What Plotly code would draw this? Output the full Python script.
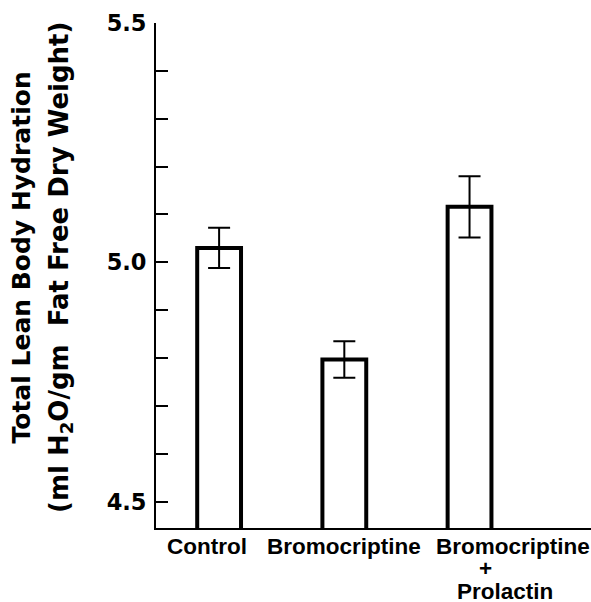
import plotly.graph_objects as go

categories = ["Control", "Bromocriptine", "Bromocriptine + Prolactin"]
means = [5.03, 4.797, 5.116]
sem = [0.042, 0.038, 0.064]

# x-label lines (per category) for multi-line labels
label_lines = [["Control"], ["Bromocriptine"], ["Bromocriptine", "+", "Prolactin"]]

tick_values = [4.5, 4.6, 4.7, 4.8, 4.9, 5.0, 5.1, 5.2, 5.3, 5.4, 5.5]
tick_labels = ["4.5", "", "", "", "", "5.0", "", "", "", "", "5.5"]

y_title_lines = ["Total Lean Body Hydration",
                 "(ml H<sub>2</sub>O/gm\u00a0 Fat Free Dry Weight)"]

TITLE_FONTS = [dict(family="DejaVu Sans", size=25, color="black", weight="bold"),
               dict(family="DejaVu Sans", size=26, color="black", weight="bold")]
TICK_FONT = dict(family="DejaVu Sans", size=22.5, color="black", weight="bold")
XLAB_FONT = dict(family="Liberation Sans", size=22.5, color="black", weight="bold")

fig = go.Figure()
fig.add_trace(go.Bar(
    x=categories, y=means, width=0.35,
    marker=dict(color="white", line=dict(color="black", width=4)),
    error_y=dict(type="data", array=sem, visible=True, color="black",
                 thickness=2, width=11),
    showlegend=False,
))

annotations = []
# x labels: per-line annotations, with horizontal offsets to match the figure
x_offsets = [[-12], [0], [43, 16, 35]]
y_offsets = [[-18], [-18], [-18, -40, -63]]
for cat, lines, xo, yo in zip(categories, label_lines, x_offsets, y_offsets):
    for line, dx, dy in zip(lines, xo, yo):
        annotations.append(dict(
            x=cat, xref="x", y=0, yref="paper", text=line, showarrow=False,
            xanchor="center", yanchor="middle", xshift=dx, yshift=dy,
            font=XLAB_FONT))

title_x_shift = [-135, -96]
title_y_shift = [18, 7.5]
for line, dx, dy, fnt in zip(y_title_lines, title_x_shift, title_y_shift, TITLE_FONTS):
    annotations.append(dict(
        x=0, xref="paper", y=0.5, yref="paper", text=line, showarrow=False,
        textangle=-90, xanchor="center", yanchor="middle",
        xshift=dx, yshift=dy, font=fnt))

fig.update_layout(
    width=591, height=602,
    margin=dict(l=156, r=0, t=23, b=74, pad=0),
    paper_bgcolor="white", plot_bgcolor="white",
    annotations=annotations,
    xaxis=dict(range=[-0.504, 2.97], showticklabels=False, ticks="",
               showline=True, linecolor="black", linewidth=2,
               showgrid=False, zeroline=False),
    yaxis=dict(range=[4.445, 5.5], tickvals=tick_values, ticktext=tick_labels,
               ticks="inside", ticklen=12, tickwidth=2, tickcolor="black",
               showline=True, linecolor="black", linewidth=2,
               showgrid=False, zeroline=False, tickfont=TICK_FONT,
               ticklabelstandoff=3, automargin=False),
)

fig.write_html(
    "out.html",
    config={"displayModeBar": False},
    post_script="document.body.style.margin='0';document.body.style.overflow='hidden';",
)
